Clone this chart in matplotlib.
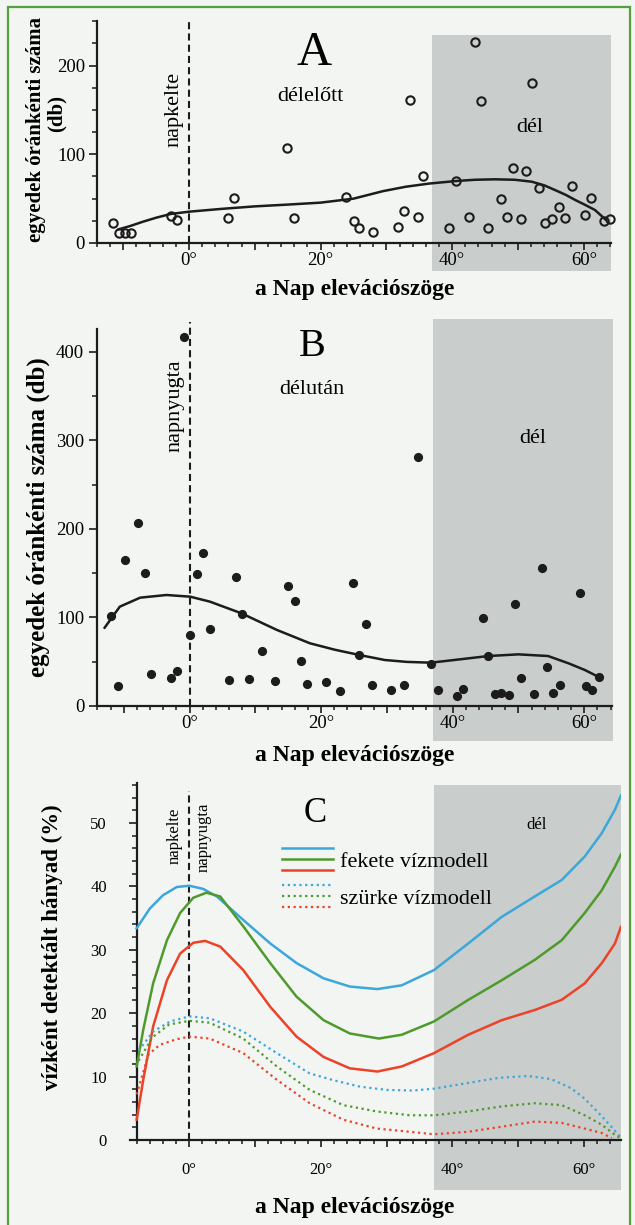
import matplotlib
matplotlib.use("Agg")
import matplotlib.pyplot as plt
from matplotlib.patches import Rectangle
from matplotlib.lines import Line2D
from matplotlib.legend_handler import HandlerBase
from matplotlib.ticker import MultipleLocator, FuncFormatter

plt.rcParams['font.family'] = ['Liberation Serif', 'DejaVu Serif']

# ---- panel A: open circles + fitted curve (délelőtt)
a_x = [-11.6, -10.7, -9.7, -8.8, -2.8, -1.8, 5.9, 6.8, 14.9, 15.9, 23.9, 25.1, 25.9,
       27.9, 31.8, 32.7, 33.6, 34.8, 35.6, 39.5, 40.6, 42.6, 43.5, 44.4, 45.4, 47.4,
       48.4, 49.3, 50.4, 51.2, 52.2, 53.2, 54.1, 55.2, 56.3, 57.1, 58.2, 60.2, 61.1,
       63.1, 64.0]
a_y = [22.9, 11.6, 11.6, 11.6, 30.4, 25.9, 28.0, 50.6, 107.2, 27.8, 52.2, 25.1, 16.5,
       12.8, 18.4, 36.4, 161.2, 29.7, 75.9, 16.9, 69.9, 29.7, 226.2, 160.4, 16.9, 49.6,
       29.7, 84.2, 26.7, 81.5, 180.0, 61.7, 22.9, 26.7, 40.2, 28.2, 64.6, 32.0, 50.4,
       25.0, 26.7]
a_fit_x = [-10.7, -9, -7, -5, -2.8, 0, 5, 10, 15, 20, 25, 29.5, 33, 36.5, 40.6, 43.5,
           46.5, 49.5, 52.1, 54, 55.6, 57.2, 58.7, 60.2, 61.7, 63.3]
a_fit_y = [15.4, 19, 24, 28.5, 32.7, 35.3, 38.5, 41.3, 43.3, 45.5, 50, 58.5, 63.5, 67,
           69.9, 71.3, 71.8, 71.3, 69.1, 65, 59.8, 54.5, 48.5, 43, 37.2, 26.5]

# ---- panel B: filled circles + fitted curve (délután)
b_x = [-11.9, -10.8, -9.8, -7.8, -6.8, -5.9, -2.8, -1.9, -0.8, 0.1, 1.1, 2.1, 3.1,
       6.0, 7.1, 8.0, 9.0, 11.0, 13.0, 15.0, 16.0, 16.9, 17.8, 20.7, 22.8, 24.8, 25.8,
       26.8, 27.8, 30.7, 32.6, 34.8, 36.7, 37.7, 40.6, 41.5, 44.6, 45.4, 46.4, 47.4,
       48.5, 49.5, 50.4, 52.4, 53.5, 54.3, 55.3, 56.3, 59.3, 60.2, 61.2, 62.2]
b_y = [101.6, 22.6, 164.8, 206.2, 150.5, 36.1, 32.0, 39.5, 416.9, 80.2, 149.0, 172.3,
       86.9, 29.4, 145.2, 103.9, 30.1, 62.1, 28.2, 135.5, 118.9, 51.2, 24.5, 26.7, 16.9,
       138.5, 57.6, 92.2, 23.7, 18.1, 23.7, 281.5, 47.4, 18.1, 11.3, 18.8, 99.7, 56.4,
       13.2, 15.1, 12.4, 114.8, 32.0, 13.2, 156.2, 44.4, 14.3, 23.7, 127.9, 22.6, 18.1,
       33.1]
b_fit_x = [-12.9, -10.6, -7.5, -3.5, 0.1, 3.1, 7.9, 13.3, 18.3, 22.1, 25.8, 29.7, 33.0,
           36.7, 42.4, 45.4, 50.0, 54.5, 57.6, 60.1, 62.1]
b_fit_y = [88.4, 112.1, 122.3, 125.3, 123.4, 117.8, 104.6, 85.8, 70.8, 63.5, 57.6, 51.9,
           49.8, 48.9, 53.8, 56.4, 58.3, 56.4, 48.2, 40.6, 33.1]

# ---- panel C: detected fraction, black (solid) and grey (dotted) water models
c_blue_x = [-8.0, -6.0, -4.0, -1.9, 0, 2.1, 4.2, 8.2, 12.3, 16.3, 20.4, 24.4, 28.6,
            32.3, 37.2, 42.4, 47.5, 52.5, 56.6, 60.1, 62.7, 64.7, 65.6]
c_blue_y = [33.4, 36.5, 38.6, 39.9, 40.1, 39.6, 38.4, 34.7, 31.0, 27.9, 25.5, 24.2, 23.8,
            24.4, 26.8, 31.0, 35.2, 38.4, 41.0, 44.7, 48.4, 52.1, 54.3]
c_green_x = [-8.0, -7.0, -5.5, -3.4, -1.4, 0.6, 2.6, 4.7, 8.2, 12.3, 16.3, 20.4, 24.4,
             28.8, 32.3, 37.2, 42.4, 47.5, 52.5, 56.6, 60.1, 62.7, 64.7, 65.6]
c_green_y = [11.6, 17.4, 24.7, 31.5, 35.8, 38.2, 39.0, 38.4, 33.7, 27.9, 22.6, 18.9, 16.8,
             16.0, 16.6, 18.7, 22.1, 25.2, 28.4, 31.5, 35.8, 39.4, 43.1, 45.0]
c_red_x = [-8.0, -7.0, -5.5, -3.4, -1.4, 0.6, 2.4, 4.7, 8.2, 12.3, 16.3, 20.4, 24.4,
           28.6, 32.3, 37.2, 42.4, 47.5, 52.5, 56.6, 60.1, 62.7, 64.7, 65.6]
c_red_y = [3.2, 9.5, 17.9, 25.2, 29.4, 31.1, 31.4, 30.5, 26.8, 21.0, 16.3, 13.1, 11.3,
           10.8, 11.6, 13.7, 16.6, 18.9, 20.5, 22.1, 24.7, 27.9, 31.0, 33.6]
c_blue_dot_x = [-7.7, -5.5, -2.9, 0, 3.1, 8.2, 13.3, 18.3, 22.0, 26.0, 30.0, 34.0, 37.2,
                42.4, 47.0, 51.5, 55.0, 58.0, 60.1, 62.0, 63.7, 65.5]
c_blue_dot_y = [14.1, 17.1, 18.7, 19.5, 19.2, 17.1, 13.7, 10.5, 9.4, 8.4, 7.9, 7.8, 8.1,
                9.0, 9.8, 10.1, 9.6, 8.2, 6.5, 4.5, 2.6, 0.5]
c_green_dot_x = [-7.7, -5.6, -3.1, 0, 3.1, 8.2, 13.3, 18.3, 23.4, 28.5, 33.5, 37.2, 42.4,
                 47.5, 52.5, 56.6, 60.1, 62.7, 64.7, 65.5]
c_green_dot_y = [12.5, 16.2, 18.2, 18.8, 18.5, 16.0, 11.6, 7.9, 5.5, 4.5, 3.9, 3.9, 4.5,
                 5.3, 5.8, 5.5, 3.9, 2.4, 0.8, 0.3]
c_red_dot_x = [-8.0, -6.2, -4.5, -1.9, 0, 3.1, 8.2, 13.3, 18.3, 23.4, 28.5, 33.5, 37.2,
               42.4, 47.5, 52.5, 56.6, 60.1, 62.7, 64.2]
c_red_dot_y = [7.2, 13.5, 15.0, 15.9, 16.3, 16.0, 13.7, 9.5, 5.8, 3.2, 1.8, 1.3, 0.9,
               1.3, 2.1, 2.9, 2.7, 1.8, 1.1, 0.3]

legend_labels = ['fekete vízmodell', 'szürke vízmodell']
xlabel = 'a Nap elevációszöge'

BG = '#f2f5f2'
GRAY = '#c9cdcb'
INK = '#1c1c1c'
BLUE = '#3ba7da'
GREEN = '#4e9a2c'
RED = '#ec4228'

W, H = 635, 1225
fig = plt.figure(figsize=(W / 100, H / 100), dpi=100, facecolor=BG)


def px_axes(left, right, top, bottom):
    ax = fig.add_axes([left / W, 1 - bottom / H, (right - left) / W, (bottom - top) / H])
    ax.set_facecolor('none')
    return ax


def deg_fmt(v, pos):
    if v >= 0 and round(v) % 20 == 0:
        return f"{int(round(v))}°"
    return ""


def style(ax, ymaj, ymin, tsize, xpad, ypad):
    for s in ('top', 'right'):
        ax.spines[s].set_visible(False)
    for s in ('left', 'bottom'):
        ax.spines[s].set_linewidth(1.6)
        ax.spines[s].set_color(INK)
    ax.xaxis.set_major_locator(MultipleLocator(10))
    ax.xaxis.set_minor_locator(MultipleLocator(2))
    ax.xaxis.set_major_formatter(FuncFormatter(deg_fmt))
    ax.yaxis.set_major_locator(MultipleLocator(ymaj))
    ax.yaxis.set_minor_locator(MultipleLocator(ymin))
    ax.tick_params(axis='x', which='major', length=5, width=1.2, color=INK,
                   labelsize=tsize, pad=xpad)
    ax.tick_params(axis='x', which='minor', length=3.2, width=1.1, color=INK)
    ax.tick_params(axis='y', which='major', length=5.5, width=1.2, color=INK,
                   labelsize=tsize, pad=ypad)
    ax.tick_params(axis='y', which='minor', length=3.5, width=1.1, color=INK)


def shade(ax, x0, x1, y0, y1):
    ax.add_patch(Rectangle((x0, y0), x1 - x0, y1 - y0, transform=ax.transData,
                           facecolor=GRAY, edgecolor='none', zorder=0, clip_on=False))


def dashed(ax, ytop):
    ax.plot([0, 0], [0, ytop], color=INK, lw=1.5, dashes=(3.4, 2.0), zorder=2,
            clip_on=False)


# ---------------- A
axA = px_axes(96.9, 611.4, 21.25, 243)
axA.set_xlim(-14, 64.2)
axA.set_ylim(0, 250)
style(axA, 100, 25, 13.5, 1.5, 3)
shade(axA, 36.9, 64.2, -31.6, 234.5)
dashed(axA, 250)
axA.plot(a_fit_x, a_fit_y, color=INK, lw=1.8, zorder=3)
axA.plot(a_x, a_y, 'o', mfc='none', mec=INK, mew=1.5, ms=6.0, zorder=4, clip_on=False)
axA.text(19.0, 213.8, 'A', fontsize=35, ha='center', va='center')
axA.text(18.5, 165, 'délelőtt', fontsize=16, ha='center', va='center')
axA.text(-2.3, 151, 'napkelte', fontsize=16, rotation=90, ha='center', va='center')
axA.text(51.8, 130, 'dél', fontsize=16, ha='center', va='center')

# ---------------- B
axB = px_axes(97.4, 611.9, 328.6, 706)
axB.set_xlim(-14, 64.2)
axB.set_ylim(0, 426)
style(axB, 100, 50, 13.5, 1.5, 4)
shade(axB, 37.0, 64.4, -39.2, 436.5)
dashed(axB, 434)
axB.plot(b_fit_x, b_fit_y, color=INK, lw=1.8, zorder=3)
axB.plot(b_x, b_y, 'o', color=INK, ms=5.6, zorder=4, clip_on=False)
axB.text(18.6, 405.6, 'B', fontsize=29, ha='center', va='center')
axB.text(18.6, 357.5, 'délután', fontsize=16, ha='center', va='center')
axB.text(-2.2, 338.7, 'napnyugta', fontsize=16, rotation=90, ha='center', va='center')
axB.text(52.2, 302, 'dél', fontsize=16, ha='center', va='center')

# ---------------- C
axC = px_axes(130.1, 620.9, 783, 1140)
axC.set_xlim(-9, 65.6)
axC.set_ylim(0, 56.3)
style(axC, 10, 2, 12, 11, 16)
axC.spines['left'].set_position(('data', -8.0))
shade(axC, 37.2, 65.6, -7.9, 56.0)
dashed(axC, 55)
lb, = axC.plot(c_blue_x, c_blue_y, color=BLUE, lw=1.8, zorder=3)
lg, = axC.plot(c_green_x, c_green_y, color=GREEN, lw=1.8, zorder=3)
lr, = axC.plot(c_red_x, c_red_y, color=RED, lw=1.8, zorder=3)
dot = (0, (1.0, 1.6))
db, = axC.plot(c_blue_dot_x, c_blue_dot_y, color=BLUE, lw=1.6, ls=dot, zorder=3)
dg, = axC.plot(c_green_dot_x, c_green_dot_y, color=GREEN, lw=1.6, ls=dot, zorder=3)
dr, = axC.plot(c_red_dot_x, c_red_dot_y, color=RED, lw=1.6, ls=dot, zorder=3)
axC.text(19.1, 51.5, 'C', fontsize=25, ha='center', va='center')
axC.text(52.8, 49.7, 'dél', fontsize=12, ha='center', va='center')
axC.text(-2.2, 47.9, 'napkelte', fontsize=12, rotation=90, ha='center', va='center')
axC.text(2.2, 47.7, 'napnyugta', fontsize=12, rotation=90, ha='center', va='center')


class StackHandler(HandlerBase):
    # three short lines stacked on top of each other for one legend entry
    def create_artists(self, legend, orig_handle, xdescent, ydescent, width, height,
                       fontsize, trans):
        out = []
        gap = 0.49 * fontsize
        mid = height / 2 - ydescent
        for i, src in enumerate(orig_handle):
            y = mid + (1 - i) * gap
            ln = Line2D([-xdescent, width - xdescent], [y, y])
            self.update_prop(ln, src, legend)
            ln.set_transform(trans)
            out.append(ln)
        return out


axC.legend([(lb, lg, lr), (db, dg, dr)], legend_labels,
           handler_map={tuple: StackHandler()}, loc='center left',
           bbox_to_anchor=(0.309, 0.728), frameon=False, fontsize=16,
           handlelength=2.3, handletextpad=0.3, labelspacing=0.75,
           borderpad=0, borderaxespad=0)

# ---------------- axis titles
for yc in (290, 755, 1207):
    fig.text(355 / W, 1 - yc / H, xlabel, ha='center', va='center', fontsize=17,
             fontweight='bold')
fig.text(36 / W, 1 - 130 / H, 'egyedek óránkénti száma', rotation=90, ha='center',
         va='center', fontsize=15, fontweight='bold')
fig.text(57 / W, 1 - 114 / H, '(db)', rotation=90, ha='center', va='center',
         fontsize=15, fontweight='bold')
fig.text(38 / W, 1 - 517 / H, 'egyedek óránkénti száma (db)', rotation=90,
         ha='center', va='center', fontsize=18, fontweight='bold')
fig.text(52.6 / W, 1 - 947 / H, 'vízként detektált hányad (%)', rotation=90,
         ha='center', va='center', fontsize=16.5, fontweight='bold')

# green page frame
fig.add_artist(Rectangle((8 / W, -0.05), 622 / W, 1.05 - 7 / H, transform=fig.transFigure,
                         facecolor='none', edgecolor='#55a03c', lw=1.6))

fig.savefig('out.png', dpi=100, facecolor=BG)
